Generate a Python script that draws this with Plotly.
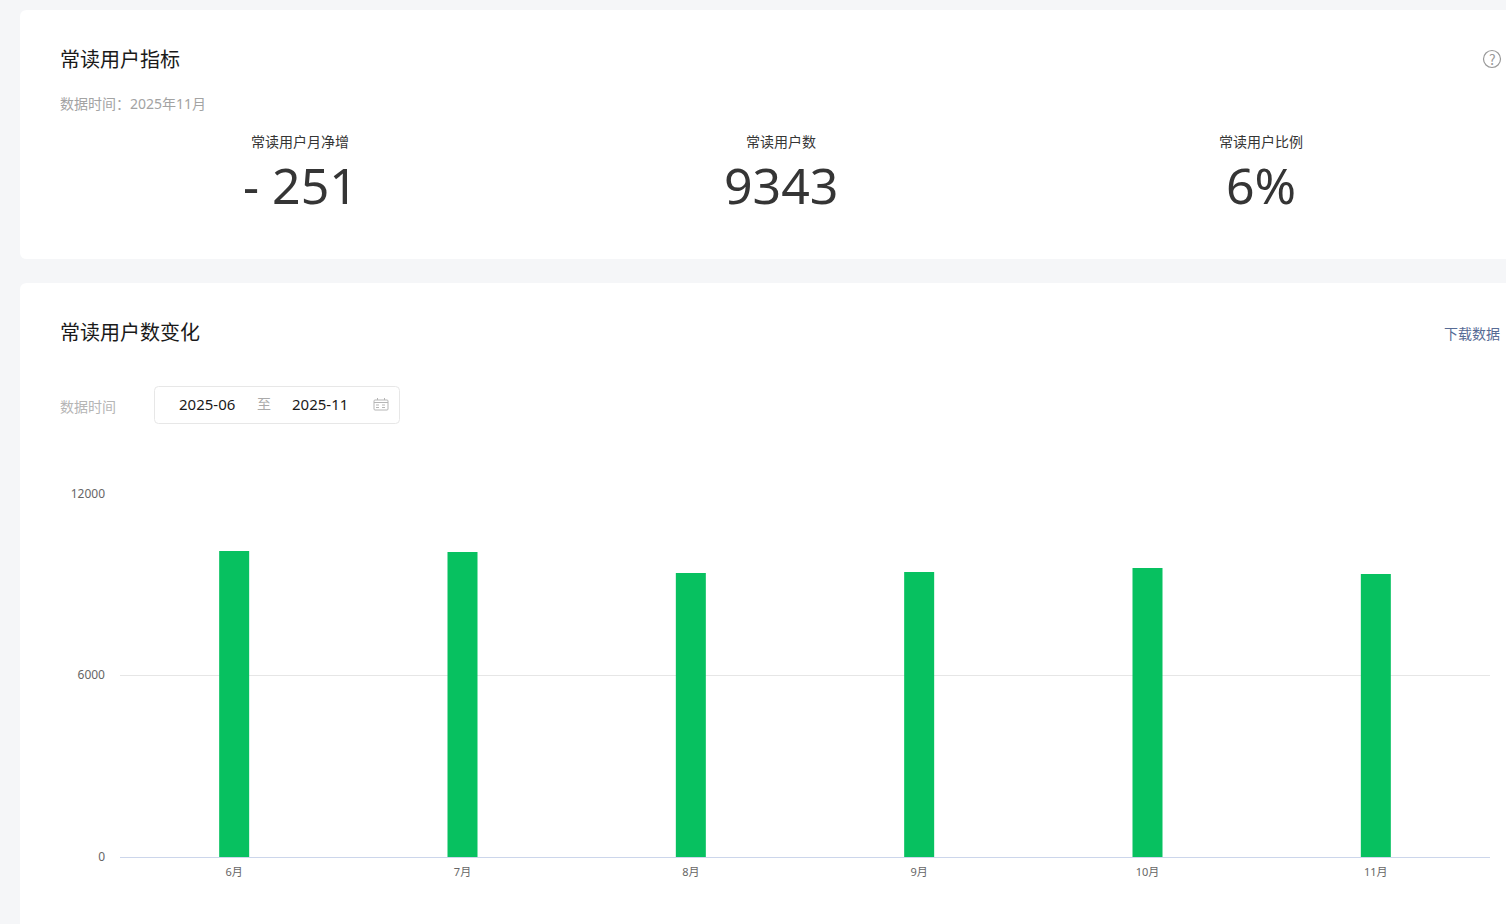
import plotly.graph_objects as go

W, H = 1506, 924
months = ["6月", "7月", "8月", "9月", "10月", "11月"]
readers = [10100, 10068, 9375, 9408, 9540, 9343]
y_ticks = [0, 6000, 12000]
kpi_labels = ["常读用户月净增", "常读用户数", "常读用户比例"]
kpi_values = ["- 251", "9343", "6%"]

CJK = "Noto Sans CJK SC"
NUM = "'Noto Sans', 'Noto Sans CJK SC'"
PLOT_L, PLOT_R, PLOT_T, PLOT_B = 120, 1490, 493.5, 857


def fx(px):
    return px / W


def fy(py):
    return 1 - py / H


def card(x0, y0, x1, y1, r=7):
    path = (f"M {fx(x0 + r)} {fy(y0)} L {fx(x1)} {fy(y0)} L {fx(x1)} {fy(y1)} L {fx(x0 + r)} {fy(y1)} "
            f"Q {fx(x0)} {fy(y1)} {fx(x0)} {fy(y1 - r)} L {fx(x0)} {fy(y0 + r)} "
            f"Q {fx(x0)} {fy(y0)} {fx(x0 + r)} {fy(y0)} Z")
    return dict(type="path", xref="paper", yref="paper", path=path, fillcolor="#ffffff",
                line=dict(width=0), layer="below")


def rbox(x0, y0, x1, y1, r, color, width=1):
    path = (f"M {fx(x0 + r)} {fy(y0)} L {fx(x1 - r)} {fy(y0)} Q {fx(x1)} {fy(y0)} {fx(x1)} {fy(y0 + r)} "
            f"L {fx(x1)} {fy(y1 - r)} Q {fx(x1)} {fy(y1)} {fx(x1 - r)} {fy(y1)} "
            f"L {fx(x0 + r)} {fy(y1)} Q {fx(x0)} {fy(y1)} {fx(x0)} {fy(y1 - r)} "
            f"L {fx(x0)} {fy(y0 + r)} Q {fx(x0)} {fy(y0)} {fx(x0 + r)} {fy(y0)} Z")
    return dict(type="path", xref="paper", yref="paper", path=path, line=dict(color=color, width=width),
                layer="below")


def line(x0, y0, x1, y1, color, width=1, dash="solid"):
    return dict(type="line", xref="paper", yref="paper", x0=fx(x0), y0=fy(y0), x1=fx(x1), y1=fy(y1),
                line=dict(color=color, width=width, dash=dash), layer="below")


def text(s, x, y, size, color, anchor="left", family=CJK):
    return dict(text=s, xref="paper", yref="paper", x=fx(x), y=fy(y), xanchor=anchor, yanchor="middle",
                showarrow=False, borderpad=0, borderwidth=0, font=dict(size=size, color=color, family=family))


shapes = [
    card(20, 10, 1520, 259),
    card(20, 283, 1520, 940),
    dict(type="circle", xref="paper", yref="paper", x0=fx(1483.5), x1=fx(1500.5), y0=fy(50.5), y1=fy(67.5),
         line=dict(color="#999999", width=1.2)),
    rbox(154.5, 386.5, 399.5, 423.5, 4, "#e7e7e7"),
    rbox(374, 400, 388, 410, 1, "#b5b5b5"),
    line(374, 402.5, 388, 402.5, "#b5b5b5"),
    line(377.5, 398, 377.5, 400, "#b5b5b5"),
    line(384.5, 398, 384.5, 400, "#b5b5b5"),
    line(376, 405, 386, 405, "#b5b5b5", dash="dot"),
    line(376, 407.5, 386, 407.5, "#b5b5b5", dash="dot"),
]

annotations = [
    text("常读用户指标", 60, 59, 20, "#1a1a1a"),
    text("数据时间：2025年11月", 60, 104, 14, "#a3a3a3", family=NUM),
    text("常读用户数变化", 60, 332, 20, "#1a1a1a"),
    text("?", 1492, 58.5, 14, "#999999", "center"),
    text("下载数据", 1500, 333, 14, "#576b95", "right"),
    text("数据时间", 60, 406, 14, "#b5b5b5"),
    text("2025-06", 207.5, 404, 15, "#1a1a1a", "center", NUM),
    text("至", 264, 403, 14, "#aaaaaa", "center"),
    text("2025-11", 319.5, 404, 15, "#1a1a1a", "center", NUM),
]
for lab, val, cx in zip(kpi_labels, kpi_values, [300, 780.5, 1260.5]):
    annotations.append(text(lab, cx, 141, 14, "#353535", "center"))
    annotations.append(text(val, cx, 185, 50, "#353535", "center", NUM))

fig = go.Figure(go.Bar(x=months, y=readers, marker=dict(color="#07c160", line=dict(width=0)),
                       width=0.1314))
fig.update_layout(
    width=W, height=H, autosize=False, margin=dict(l=0, r=0, t=0, b=0, autoexpand=False),
    paper_bgcolor="#f5f6f8", plot_bgcolor="rgba(0,0,0,0)", showlegend=False,
    shapes=shapes, annotations=annotations,
    font=dict(family=CJK),
    xaxis=dict(domain=[fx(PLOT_L), fx(PLOT_R)], anchor="y", type="category", showgrid=False,
               showline=True, linecolor="#ccd6eb", linewidth=1, ticks="", ticklabelstandoff=5,
               tickfont=dict(size=11, color="#666666", family=NUM), fixedrange=True),
    yaxis=dict(domain=[fy(PLOT_B), fy(PLOT_T)], anchor="x", range=[0, 12000], tickvals=y_ticks,
               tickformat="d", gridcolor="#e6e6e6", gridwidth=1, zeroline=False, showline=False,
               ticks="", ticklabelstandoff=14, tickfont=dict(size=12, color="#666666", family=NUM),
               fixedrange=True),
)
fig.write_html("out.html", config=dict(displayModeBar=False),
               post_script="document.body.style.margin='0';document.documentElement.style.overflow='hidden';")
